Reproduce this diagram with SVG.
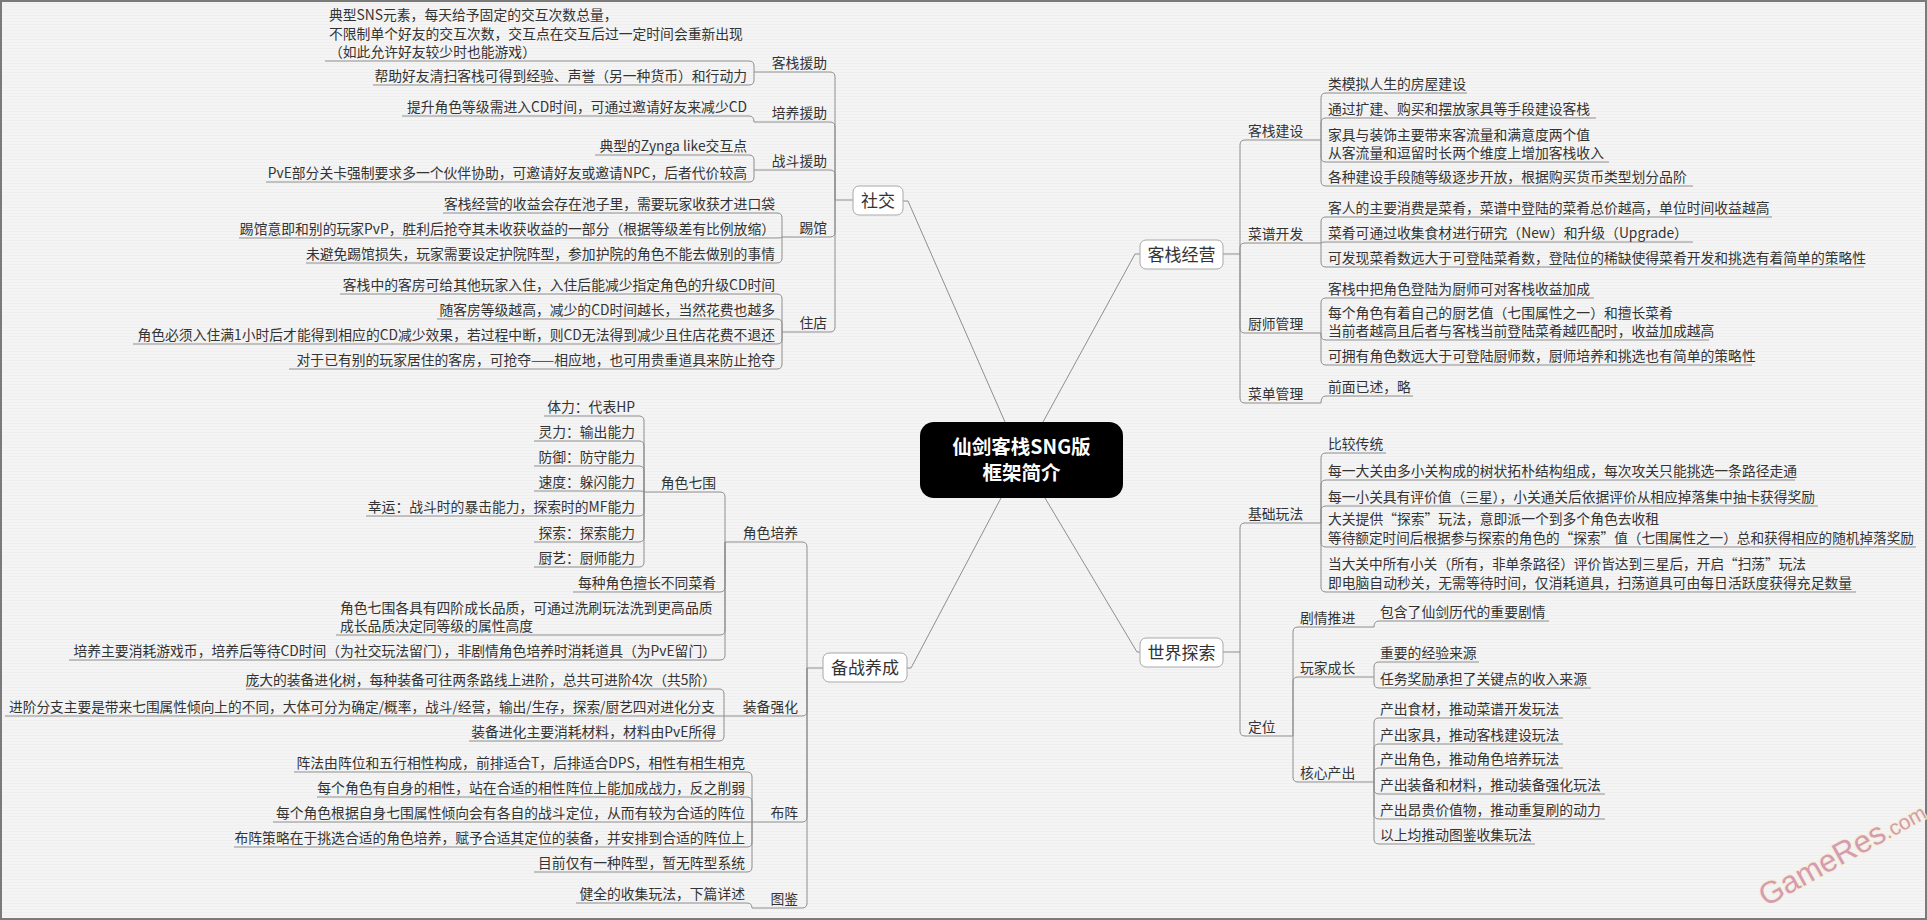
<svg xmlns="http://www.w3.org/2000/svg" width="1927" height="920" viewBox="0 0 1927 920">
<defs>
<pattern id="bgp" width="8" height="3" patternUnits="userSpaceOnUse"><rect width="8" height="3" fill="#f4f4f4"/><rect width="8" height="1" fill="#efefef"/></pattern>
</defs>
<style>
.t{font-family:"Noto Sans CJK SC","Noto Sans",sans-serif;font-size:13.8px;fill:#333}
.e{text-anchor:end}
.bx{fill:#fff;stroke:#a8a8a8;stroke-width:1}
.bt{font-family:"Noto Sans CJK SC","Noto Sans",sans-serif;font-size:17px;fill:#333;text-anchor:middle}
.c path{fill:none;stroke:#8e8e8e;stroke-width:1}
</style>
<rect width="1927" height="920" fill="url(#bgp)"/>
<rect x="1" y="1" width="1925" height="918" fill="none" stroke="#7a7a7a" stroke-width="2"/>

<g id="connectors" class="c">
<path d="M1005,422 L908,201 H903"/>
<path d="M1043,422 L1135,254 H1140"/>
<path d="M1001,498 L911,668 H907"/>
<path d="M1045,498 L1137,652 H1140"/>
<!-- 社交 -->
<path d="M853,200 H835 V77 Q835,72 830,72 H754"/>
<path d="M835,200 V127 Q835,122 830,122 H754"/>
<path d="M835,200 V175 Q835,170 830,170 H754"/>
<path d="M835,200 V232 Q835,237 830,237 H782"/>
<path d="M835,200 V327 Q835,332 830,332 H782"/>
<path d="M754,72 V66 Q754,61 749,61 H325"/>
<path d="M754,72 V80 Q754,85 749,85 H373"/>
<path d="M754,122 Q754,116 749,116 H402"/>
<path d="M754,170 V160 Q754,155 749,155 H595"/>
<path d="M754,170 V177 Q754,182 749,182 H266"/>
<path d="M782,237 V218 Q782,213 777,213 H443"/>
<path d="M782,237 Q782,238 777,238 H239"/>
<path d="M782,237 V258 Q782,263 777,263 H306"/>
<path d="M782,332 V299 Q782,294 777,294 H340"/>
<path d="M782,332 V324 Q782,319 777,319 H437"/>
<path d="M782,332 V339 Q782,344 777,344 H133"/>
<path d="M782,332 V364 Q782,369 777,369 H289"/>
<!-- 备战养成 -->
<path d="M823,668 H807 V547 Q807,542 802,542 H725"/>
<path d="M807,668 V711 Q807,716 802,716 H724"/>
<path d="M807,668 V817 Q807,822 802,822 H752"/>
<path d="M807,668 V903 Q807,908 802,908 H752"/>
<path d="M725,542 V497 Q725,492 720,492 H644"/>
<path d="M725,542 V587 Q725,592 720,592 H573"/>
<path d="M725,542 V630 Q725,635 720,635 H336"/>
<path d="M725,542 V655 Q725,660 720,660 H69"/>
<path d="M644,492 V421 Q644,416 639,416 H544"/>
<path d="M644,492 V446 Q644,441 639,441 H534"/>
<path d="M644,492 V471 Q644,466 639,466 H534"/>
<path d="M644,492 Q644,491 639,491 H534"/>
<path d="M644,492 V511 Q644,516 639,516 H366"/>
<path d="M644,492 V537 Q644,542 639,542 H534"/>
<path d="M644,492 V562 Q644,567 639,567 H534"/>
<path d="M724,716 V694 Q724,689 719,689 H246"/>
<path d="M724,716 H5"/>
<path d="M724,716 V736 Q724,741 719,741 H469"/>
<path d="M752,822 V777 Q752,772 747,772 H294"/>
<path d="M752,822 V802 Q752,797 747,797 H317"/>
<path d="M752,822 H273"/>
<path d="M752,822 V842 Q752,847 747,847 H234"/>
<path d="M752,822 V867 Q752,872 747,872 H534"/>
<path d="M752,908 Q752,903 747,903 H576"/>
<!-- 客栈经营 -->
<path d="M1223,254 H1240 V145 Q1240,140 1245,140 H1321"/>
<path d="M1240,254 V248 Q1240,243 1245,243 H1321"/>
<path d="M1240,254 V328 Q1240,333 1245,333 H1321"/>
<path d="M1240,254 V398 Q1240,403 1245,403 H1321"/>
<path d="M1321,140 V98 Q1321,93 1326,93 H1467"/>
<path d="M1321,140 V123 Q1321,118 1326,118 H1596"/>
<path d="M1321,140 V157 Q1321,162 1326,162 H1609"/>
<path d="M1321,140 V181 Q1321,186 1326,186 H1693"/>
<path d="M1321,243 V222 Q1321,217 1326,217 H1772"/>
<path d="M1321,243 Q1321,242 1326,242 H1693"/>
<path d="M1321,243 V262 Q1321,267 1326,267 H1864"/>
<path d="M1321,333 V303 Q1321,298 1326,298 H1594"/>
<path d="M1321,333 V335 Q1321,340 1326,340 H1709"/>
<path d="M1321,333 V360 Q1321,365 1326,365 H1752"/>
<path d="M1321,403 Q1321,396 1326,396 H1413"/>
<!-- 世界探索 -->
<path d="M1223,652 H1240 V528 Q1240,523 1245,523 H1321"/>
<path d="M1240,652 V731 Q1240,736 1245,736 H1293"/>
<path d="M1321,523 V458 Q1321,453 1326,453 H1386"/>
<path d="M1321,523 V485 Q1321,480 1326,480 H1795"/>
<path d="M1321,523 V511 Q1321,506 1326,506 H1818"/>
<path d="M1321,523 V542 Q1321,547 1326,547 H1916"/>
<path d="M1321,523 V587 Q1321,592 1326,592 H1856"/>
<path d="M1293,736 V632 Q1293,627 1298,627 H1374"/>
<path d="M1293,736 V682 Q1293,677 1298,677 H1374"/>
<path d="M1293,736 V777 Q1293,782 1298,782 H1374"/>
<path d="M1374,627 Q1374,621 1379,621 H1549"/>
<path d="M1374,677 V667 Q1374,662 1379,662 H1479"/>
<path d="M1374,677 V683 Q1374,688 1379,688 H1591"/>
<path d="M1374,782 V723 Q1374,718 1379,718 H1563"/>
<path d="M1374,782 V749 Q1374,744 1379,744 H1563"/>
<path d="M1374,782 V773 Q1374,768 1379,768 H1563"/>
<path d="M1374,782 V789 Q1374,794 1379,794 H1605"/>
<path d="M1374,782 V814 Q1374,819 1379,819 H1605"/>
<path d="M1374,782 V839 Q1374,844 1379,844 H1535"/>
</g>

<g id="root">
<rect x="920" y="422" width="203" height="76" rx="14" fill="#000"/>
<text x="1021.5" y="454" font-family="'Noto Sans CJK SC','Noto Sans',sans-serif" font-size="19.5" font-weight="bold" fill="#fff" text-anchor="middle">仙剑客栈SNG版</text>
<text x="1021.5" y="480" font-family="'Noto Sans CJK SC','Noto Sans',sans-serif" font-size="19.5" font-weight="bold" fill="#fff" text-anchor="middle">框架简介</text>
</g>

<g id="n-shejiao"><rect class="bx" x="853" y="186" width="50" height="29" rx="6"/><text class="bt" x="878" y="206.5">社交</text></g>
<g id="n-kezhanjingying"><rect class="bx" x="1140" y="240" width="83" height="29" rx="6"/><text class="bt" x="1181.5" y="260.5">客栈经营</text></g>
<g id="n-beizhan"><rect class="bx" x="823" y="653" width="84" height="29" rx="6"/><text class="bt" x="865" y="673.5">备战养成</text></g>
<g id="n-shijie"><rect class="bx" x="1140" y="638" width="83" height="29" rx="6"/><text class="bt" x="1181.5" y="658.5">世界探索</text></g>

<!-- 社交 subtree -->
<g id="n-kzyz"><text class="t e" x="827" y="68">客栈援助</text></g>
<g id="n-kzyz-1"><text class="t" x="329" y="20">典型SNS元素，每天给予固定的交互次数总量，<tspan x="329" y="38.5">不限制单个好友的交互次数，交互点在交互后过一定时间会重新出现</tspan><tspan x="329" y="57">（如此允许好友较少时也能游戏）</tspan></text></g>
<g id="n-kzyz-2"><text class="t e" x="747" y="81">帮助好友清扫客栈可得到经验、声誉（另一种货币）和行动力</text></g>
<g id="n-pyyz"><text class="t e" x="827" y="118">培养援助</text></g>
<g id="n-pyyz-1"><text class="t e" x="747" y="112">提升角色等级需进入CD时间，可通过邀请好友来减少CD</text></g>
<g id="n-zdyz"><text class="t e" x="827" y="166">战斗援助</text></g>
<g id="n-zdyz-1"><text class="t e" x="747" y="151">典型的Zynga like交互点</text></g>
<g id="n-zdyz-2"><text class="t e" x="747" y="178">PvE部分关卡强制要求多一个伙伴协助，可邀请好友或邀请NPC，后者代价较高</text></g>
<g id="n-tg"><text class="t e" x="827" y="233">踢馆</text></g>
<g id="n-tg-1"><text class="t e" x="775" y="209">客栈经营的收益会存在池子里，需要玩家收获才进口袋</text></g>
<g id="n-tg-2"><text class="t e" x="775" y="234">踢馆意即和别的玩家PvP，胜利后抢夺其未收获收益的一部分（根据等级差有比例放缩）</text></g>
<g id="n-tg-3"><text class="t e" x="775" y="259">未避免踢馆损失，玩家需要设定护院阵型，参加护院的角色不能去做别的事情</text></g>
<g id="n-zd"><text class="t e" x="827" y="328">住店</text></g>
<g id="n-zd-1"><text class="t e" x="775" y="290">客栈中的客房可给其他玩家入住，入住后能减少指定角色的升级CD时间</text></g>
<g id="n-zd-2"><text class="t e" x="775" y="315">随客房等级越高，减少的CD时间越长，当然花费也越多</text></g>
<g id="n-zd-3"><text class="t e" x="775" y="340">角色必须入住满1小时后才能得到相应的CD减少效果，若过程中断，则CD无法得到减少且住店花费不退还</text></g>
<g id="n-zd-4"><text class="t e" x="775" y="365">对于已有别的玩家居住的客房，可抢夺——相应地，也可用贵重道具来防止抢夺</text></g>

<!-- 备战养成 subtree -->
<g id="n-jspy"><text class="t e" x="798" y="538">角色培养</text></g>
<g id="n-jsqw"><text class="t e" x="716" y="488">角色七围</text></g>
<g id="n-qw-1"><text class="t e" x="635" y="412">体力：代表HP</text></g>
<g id="n-qw-2"><text class="t e" x="635" y="437">灵力：输出能力</text></g>
<g id="n-qw-3"><text class="t e" x="635" y="462">防御：防守能力</text></g>
<g id="n-qw-4"><text class="t e" x="635" y="487">速度：躲闪能力</text></g>
<g id="n-qw-5"><text class="t e" x="635" y="512">幸运：战斗时的暴击能力，探索时的MF能力</text></g>
<g id="n-qw-6"><text class="t e" x="635" y="538">探索：探索能力</text></g>
<g id="n-qw-7"><text class="t e" x="635" y="563">厨艺：厨师能力</text></g>
<g id="n-jspy-2"><text class="t e" x="716" y="588">每种角色擅长不同菜肴</text></g>
<g id="n-jspy-3"><text class="t" x="340" y="613">角色七围各具有四阶成长品质，可通过洗刷玩法洗到更高品质<tspan x="340" y="631">成长品质决定同等级的属性高度</tspan></text></g>
<g id="n-jspy-4"><text class="t e" x="716" y="656">培养主要消耗游戏币，培养后等待CD时间（为社交玩法留门），非剧情角色培养时消耗道具（为PvE留门）</text></g>
<g id="n-zbqh"><text class="t e" x="798" y="712">装备强化</text></g>
<g id="n-zbqh-1"><text class="t e" x="716" y="685">庞大的装备进化树，每种装备可往两条路线上进阶，总共可进阶4次（共5阶）</text></g>
<g id="n-zbqh-2"><text class="t" x="9" y="712" textLength="706" lengthAdjust="spacingAndGlyphs">进阶分支主要是带来七围属性倾向上的不同，大体可分为确定/概率，战斗/经营，输出/生存，探索/厨艺四对进化分支</text></g>
<g id="n-zbqh-3"><text class="t e" x="716" y="737">装备进化主要消耗材料，材料由PvE所得</text></g>
<g id="n-bz"><text class="t e" x="798" y="818">布阵</text></g>
<g id="n-bz-1"><text class="t e" x="745" y="768">阵法由阵位和五行相性构成，前排适合T，后排适合DPS，相性有相生相克</text></g>
<g id="n-bz-2"><text class="t e" x="745" y="793">每个角色有自身的相性，站在合适的相性阵位上能加成战力，反之削弱</text></g>
<g id="n-bz-3"><text class="t e" x="745" y="818">每个角色根据自身七围属性倾向会有各自的战斗定位，从而有较为合适的阵位</text></g>
<g id="n-bz-4"><text class="t e" x="745" y="843">布阵策略在于挑选合适的角色培养，赋予合适其定位的装备，并安排到合适的阵位上</text></g>
<g id="n-bz-5"><text class="t e" x="745" y="868">目前仅有一种阵型，暂无阵型系统</text></g>
<g id="n-tj"><text class="t e" x="798" y="904">图鉴</text></g>
<g id="n-tj-1"><text class="t e" x="745" y="899">健全的收集玩法，下篇详述</text></g>

<!-- 客栈经营 subtree -->
<g id="n-kzjs"><text class="t" x="1248" y="136">客栈建设</text></g>
<g id="n-kzjs-1"><text class="t" x="1328" y="89">类模拟人生的房屋建设</text></g>
<g id="n-kzjs-2"><text class="t" x="1328" y="114">通过扩建、购买和摆放家具等手段建设客栈</text></g>
<g id="n-kzjs-3"><text class="t" x="1328" y="140">家具与装饰主要带来客流量和满意度两个值<tspan x="1328" y="158">从客流量和逗留时长两个维度上增加客栈收入</tspan></text></g>
<g id="n-kzjs-4"><text class="t" x="1328" y="182">各种建设手段随等级逐步开放，根据购买货币类型划分品阶</text></g>
<g id="n-cpkf"><text class="t" x="1248" y="239">菜谱开发</text></g>
<g id="n-cpkf-1"><text class="t" x="1328" y="213">客人的主要消费是菜肴，菜谱中登陆的菜肴总价越高，单位时间收益越高</text></g>
<g id="n-cpkf-2"><text class="t" x="1328" y="238">菜肴可通过收集食材进行研究（New）和升级（Upgrade）</text></g>
<g id="n-cpkf-3"><text class="t" x="1328" y="263">可发现菜肴数远大于可登陆菜肴数，登陆位的稀缺使得菜肴开发和挑选有着简单的策略性</text></g>
<g id="n-csgl"><text class="t" x="1248" y="329">厨师管理</text></g>
<g id="n-csgl-1"><text class="t" x="1328" y="294">客栈中把角色登陆为厨师可对客栈收益加成</text></g>
<g id="n-csgl-2"><text class="t" x="1328" y="318">每个角色有着自己的厨艺值（七围属性之一）和擅长菜肴<tspan x="1328" y="336">当前者越高且后者与客栈当前登陆菜肴越匹配时，收益加成越高</tspan></text></g>
<g id="n-csgl-3"><text class="t" x="1328" y="361">可拥有角色数远大于可登陆厨师数，厨师培养和挑选也有简单的策略性</text></g>
<g id="n-cdgl"><text class="t" x="1248" y="399">菜单管理</text></g>
<g id="n-cdgl-1"><text class="t" x="1328" y="392">前面已述，略</text></g>

<!-- 世界探索 subtree -->
<g id="n-jcwf"><text class="t" x="1248" y="519">基础玩法</text></g>
<g id="n-jcwf-1"><text class="t" x="1328" y="449">比较传统</text></g>
<g id="n-jcwf-2"><text class="t" x="1328" y="476">每一大关由多小关构成的树状拓朴结构组成，每次攻关只能挑选一条路径走通</text></g>
<g id="n-jcwf-3"><text class="t" x="1328" y="502" textLength="487" lengthAdjust="spacingAndGlyphs">每一小关具有评价值（三星），小关通关后依据评价从相应掉落集中抽卡获得奖励</text></g>
<g id="n-jcwf-4"><text class="t" x="1328" y="524">大关提供“探索”玩法，意即派一个到多个角色去收租</text><text class="t" x="1328" y="543" textLength="586" lengthAdjust="spacingAndGlyphs">等待额定时间后根据参与探索的角色的“探索”值（七围属性之一）总和获得相应的随机掉落奖励</text></g>
<g id="n-jcwf-5"><text class="t" x="1328" y="569" textLength="478" lengthAdjust="spacingAndGlyphs">当大关中所有小关（所有，非单条路径）评价皆达到三星后，开启“扫荡”玩法</text><text class="t" x="1328" y="588" textLength="524" lengthAdjust="spacingAndGlyphs">即电脑自动秒关，无需等待时间，仅消耗道具，扫荡道具可由每日活跃度获得充足数量</text></g>
<g id="n-dw"><text class="t" x="1248" y="732">定位</text></g>
<g id="n-jqtj"><text class="t" x="1300" y="623">剧情推进</text></g>
<g id="n-jqtj-1"><text class="t" x="1380" y="617">包含了仙剑历代的重要剧情</text></g>
<g id="n-wjcz"><text class="t" x="1300" y="673">玩家成长</text></g>
<g id="n-wjcz-1"><text class="t" x="1380" y="658">重要的经验来源</text></g>
<g id="n-wjcz-2"><text class="t" x="1380" y="684">任务奖励承担了关键点的收入来源</text></g>
<g id="n-hxcc"><text class="t" x="1300" y="778">核心产出</text></g>
<g id="n-hxcc-1"><text class="t" x="1380" y="714">产出食材，推动菜谱开发玩法</text></g>
<g id="n-hxcc-2"><text class="t" x="1380" y="740">产出家具，推动客栈建设玩法</text></g>
<g id="n-hxcc-3"><text class="t" x="1380" y="764">产出角色，推动角色培养玩法</text></g>
<g id="n-hxcc-4"><text class="t" x="1380" y="790">产出装备和材料，推动装备强化玩法</text></g>
<g id="n-hxcc-5"><text class="t" x="1380" y="815">产出昂贵价值物，推动重复刷的动力</text></g>
<g id="n-hxcc-6"><text class="t" x="1380" y="840">以上均推动图鉴收集玩法</text></g>

<g id="watermark"><text transform="translate(1766,907) rotate(-29)" font-family="'Liberation Sans',sans-serif" fill="#d49ab6" stroke="#f7efcc" stroke-width="2" paint-order="stroke"><tspan font-size="31">GameRes</tspan><tspan font-size="21">.com</tspan></text></g>
</svg>
